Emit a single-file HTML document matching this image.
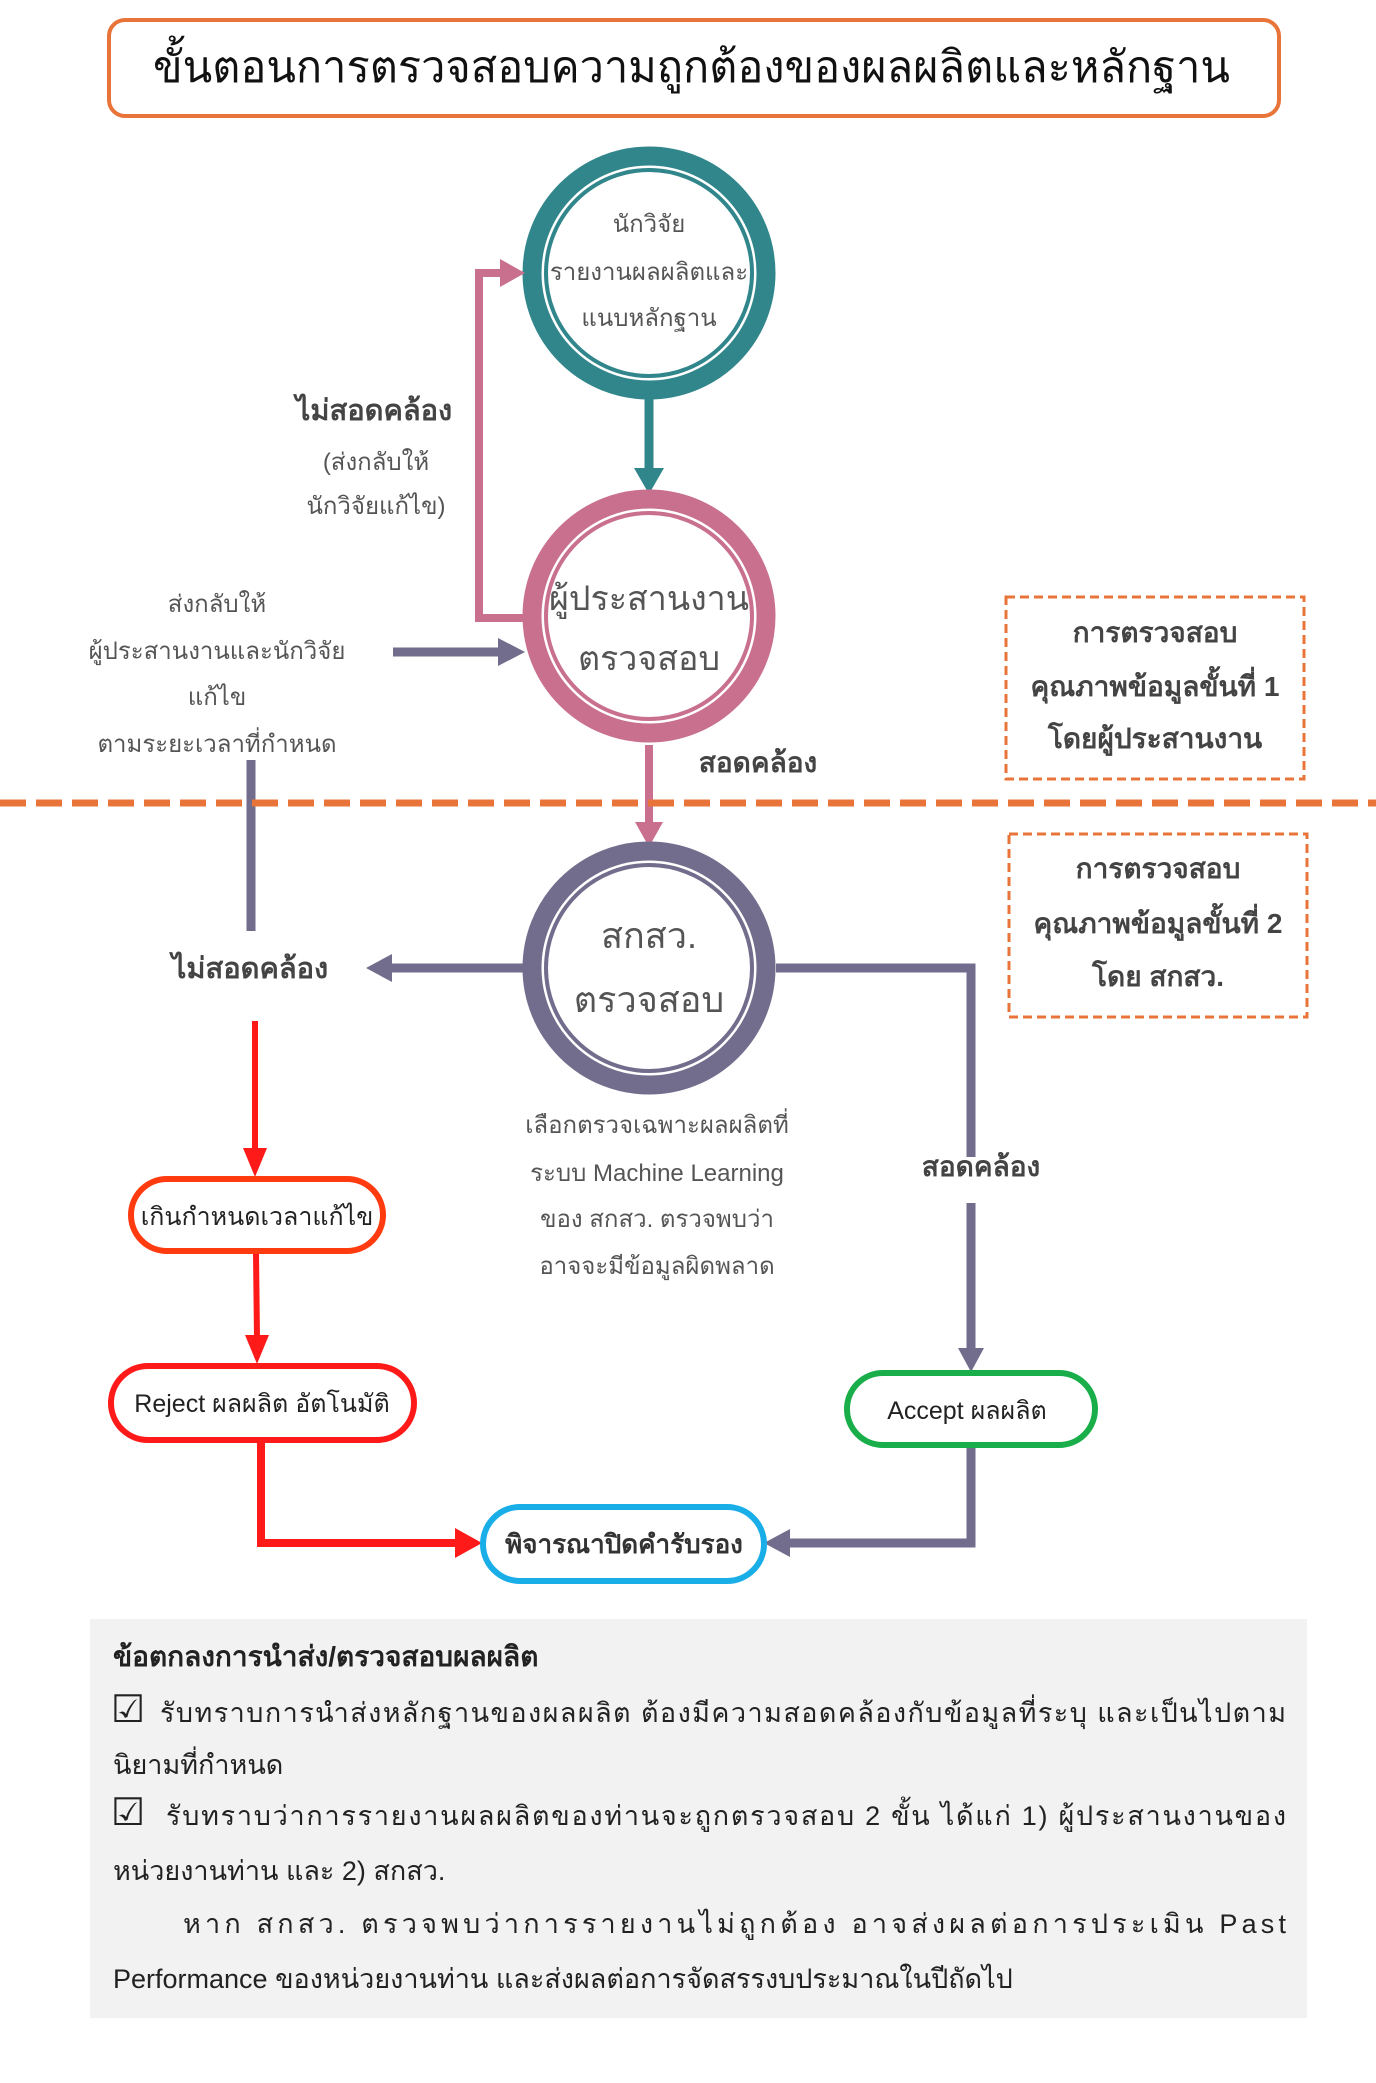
<!DOCTYPE html>
<html><head><meta charset="utf-8"><style>
html,body{margin:0;padding:0;background:#fff;}
svg{display:block;}
text{font-family:"Liberation Sans","Noto Sans CJK SC",sans-serif;}
</style></head><body>
<svg width="1376" height="2083" viewBox="0 0 1376 2083" xmlns="http://www.w3.org/2000/svg">
<!-- title -->
<rect x="109" y="20" width="1170" height="96" rx="16" fill="#fff" stroke="#e8743a" stroke-width="4"/>
<text x="153" y="82" font-size="44" textLength="1077" lengthAdjust="spacingAndGlyphs" fill="#111">ขั้นตอนการตรวจสอบความถูกต้องของผลผลิตและหลักฐาน</text>

<!-- circle 1 -->
<circle cx="649" cy="273" r="117" fill="#fff" stroke="#31868c" stroke-width="19"/>
<circle cx="649" cy="273" r="103" fill="none" stroke="#31868c" stroke-width="4"/>
<text x="649" y="232" font-size="24" text-anchor="middle" fill="#555">นักวิจัย</text>
<text x="649" y="280" font-size="24" text-anchor="middle" fill="#555">รายงานผลผลิตและ</text>
<text x="649" y="326" font-size="24" text-anchor="middle" fill="#555">แนบหลักฐาน</text>
<line x1="649" y1="399" x2="649" y2="470" stroke="#31868c" stroke-width="9"/>
<path d="M634,468 L664,468 L649,494z" fill="#31868c"/>

<!-- circle 2 -->
<circle cx="649" cy="616" r="117" fill="#fff" stroke="#c9708f" stroke-width="19"/>
<circle cx="649" cy="616" r="103" fill="none" stroke="#c9708f" stroke-width="4"/>
<text x="649" y="610" font-size="34" text-anchor="middle" fill="#555">ผู้ประสานงาน</text>
<text x="649" y="670" font-size="34" text-anchor="middle" fill="#555">ตรวจสอบ</text>
<polyline points="525,618 479,618 479,273 503,273" fill="none" stroke="#c9708f" stroke-width="8"/>
<path d="M500,259 L525,273 L500,287z" fill="#c9708f"/>
<text x="374" y="420" font-size="29" font-weight="bold" text-anchor="middle" fill="#444">ไม่สอดคล้อง</text>
<text x="376" y="470" font-size="24" text-anchor="middle" fill="#555">(ส่งกลับให้</text>
<text x="376" y="514" font-size="24" text-anchor="middle" fill="#555">นักวิจัยแก้ไข)</text>

<text x="217" y="612" font-size="24" text-anchor="middle" fill="#555">ส่งกลับให้</text>
<text x="217" y="659" font-size="24" text-anchor="middle" fill="#555">ผู้ประสานงานและนักวิจัย</text>
<text x="217" y="705" font-size="24" text-anchor="middle" fill="#555">แก้ไข</text>
<text x="217" y="752" font-size="24" text-anchor="middle" fill="#555">ตามระยะเวลาที่กำหนด</text>
<line x1="393" y1="652" x2="500" y2="652" stroke="#726d8c" stroke-width="9"/>
<path d="M498,638 L525,652 L498,666z" fill="#726d8c"/>
<line x1="251" y1="931" x2="251" y2="760" stroke="#726d8c" stroke-width="9"/>

<line x1="649" y1="745" x2="649" y2="825" stroke="#c9708f" stroke-width="8"/>
<path d="M635,822 L663,822 L649,847z" fill="#c9708f"/>
<text x="758" y="772" font-size="28" font-weight="bold" text-anchor="middle" fill="#444">สอดคล้อง</text>

<line x1="0" y1="803" x2="1376" y2="803" stroke="#e8743a" stroke-width="7" stroke-dasharray="26,10"/>

<rect x="1006" y="597" width="298" height="182" fill="none" stroke="#e8743a" stroke-width="3" stroke-dasharray="9,5"/>
<text x="1155" y="642" font-size="28" font-weight="bold" text-anchor="middle" fill="#444">การตรวจสอบ</text>
<text x="1155" y="696" font-size="28" font-weight="bold" text-anchor="middle" fill="#444">คุณภาพข้อมูลขั้นที่ 1</text>
<text x="1155" y="748" font-size="28" font-weight="bold" text-anchor="middle" fill="#444">โดยผู้ประสานงาน</text>
<rect x="1009" y="834" width="298" height="183" fill="none" stroke="#e8743a" stroke-width="3" stroke-dasharray="9,5"/>
<text x="1158" y="878" font-size="28" font-weight="bold" text-anchor="middle" fill="#444">การตรวจสอบ</text>
<text x="1158" y="933" font-size="28" font-weight="bold" text-anchor="middle" fill="#444">คุณภาพข้อมูลขั้นที่ 2</text>
<text x="1158" y="986" font-size="28" font-weight="bold" text-anchor="middle" fill="#444">โดย สกสว.</text>

<circle cx="649" cy="968" r="117" fill="#fff" stroke="#726d8c" stroke-width="19"/>
<circle cx="649" cy="968" r="103" fill="none" stroke="#726d8c" stroke-width="4"/>
<text x="649" y="948" font-size="36" text-anchor="middle" fill="#555">สกสว.</text>
<text x="649" y="1012" font-size="36" text-anchor="middle" fill="#555">ตรวจสอบ</text>
<line x1="523" y1="968" x2="390" y2="968" stroke="#726d8c" stroke-width="9"/>
<path d="M392,954 L366,968 L392,982z" fill="#726d8c"/>
<text x="250" y="978" font-size="29" font-weight="bold" text-anchor="middle" fill="#444">ไม่สอดคล้อง</text>
<polyline points="776,968 971,968 971,1157" fill="none" stroke="#726d8c" stroke-width="9"/>
<text x="981" y="1176" font-size="28" font-weight="bold" text-anchor="middle" fill="#444">สอดคล้อง</text>
<line x1="971" y1="1203" x2="971" y2="1350" stroke="#726d8c" stroke-width="9"/>
<path d="M958,1348 L984,1348 L971,1372z" fill="#726d8c"/>

<text x="657" y="1133" font-size="24" text-anchor="middle" fill="#555">เลือกตรวจเฉพาะผลผลิตที่</text>
<text x="657" y="1181" font-size="24" text-anchor="middle" fill="#555">ระบบ Machine Learning</text>
<text x="657" y="1227" font-size="24" text-anchor="middle" fill="#555">ของ สกสว. ตรวจพบว่า</text>
<text x="657" y="1274" font-size="24" text-anchor="middle" fill="#555">อาจจะมีข้อมูลผิดพลาด</text>

<line x1="255" y1="1021" x2="255" y2="1150" stroke="#ff1a1a" stroke-width="6"/>
<path d="M243,1148 L267,1148 L255,1177z" fill="#ff1a1a"/>
<rect x="131" y="1179" width="252" height="72" rx="36" fill="#fff" stroke="#ff3b0f" stroke-width="6"/>
<text x="257" y="1225" font-size="25" text-anchor="middle" fill="#222">เกินกำหนดเวลาแก้ไข</text>
<line x1="256" y1="1254" x2="257" y2="1338" stroke="#ff1a1a" stroke-width="6"/>
<path d="M245,1335 L269,1335 L257,1364z" fill="#ff1a1a"/>
<rect x="111" y="1366" width="303" height="74" rx="37" fill="#fff" stroke="#ff1a1a" stroke-width="6"/>
<text x="262" y="1412" font-size="25" text-anchor="middle" fill="#222">Reject ผลผลิต อัตโนมัติ</text>
<polyline points="261,1443 261,1543 458,1543" fill="none" stroke="#ff1a1a" stroke-width="8"/>
<path d="M455,1528 L482,1543 L455,1558z" fill="#ff1a1a"/>

<rect x="847" y="1373" width="248" height="72" rx="36" fill="#fff" stroke="#1aae4a" stroke-width="6"/>
<text x="967" y="1419" font-size="25" text-anchor="middle" fill="#222">Accept ผลผลิต</text>
<polyline points="971,1448 971,1543 788,1543" fill="none" stroke="#726d8c" stroke-width="9"/>
<path d="M790,1529 L764,1543 L790,1557z" fill="#726d8c"/>

<rect x="483" y="1507" width="281" height="74" rx="37" fill="#fff" stroke="#1aaee8" stroke-width="6"/>
<text x="624" y="1553" font-size="26" font-weight="bold" text-anchor="middle" fill="#333">พิจารณาปิดคำรับรอง</text>

<rect x="90" y="1619" width="1217" height="399" fill="#f2f2f2"/>
<text x="113" y="1666" font-size="28" font-weight="bold" fill="#222">ข้อตกลงการนำส่ง/ตรวจสอบผลผลิต</text>
<g font-size="27" fill="#222">
<text x="111" y="1722" font-size="38">☑</text>
<text x="160" y="1722" textLength="1126" lengthAdjust="spacing">รับทราบการนำส่งหลักฐานของผลผลิต ต้องมีความสอดคล้องกับข้อมูลที่ระบุ และเป็นไปตาม</text>
<text x="113" y="1774">นิยามที่กำหนด</text>
<text x="111" y="1825" font-size="38">☑</text>
<text x="166" y="1825" textLength="1120" lengthAdjust="spacing">รับทราบว่าการรายงานผลผลิตของท่านจะถูกตรวจสอบ 2 ขั้น ได้แก่ 1) ผู้ประสานงานของ</text>
<text x="113" y="1880">หน่วยงานท่าน และ 2) สกสว.</text>
<text x="183" y="1933" textLength="1103" lengthAdjust="spacing">หาก สกสว. ตรวจพบว่าการรายงานไม่ถูกต้อง อาจส่งผลต่อการประเมิน Past</text>
<text x="113" y="1988">Performance ของหน่วยงานท่าน และส่งผลต่อการจัดสรรงบประมาณในปีถัดไป</text>
</g>
</svg>
</body></html>
